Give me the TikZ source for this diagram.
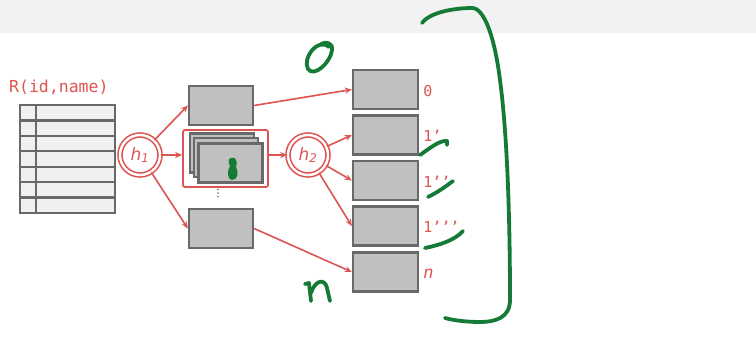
\documentclass[tikz,border=0pt]{standalone}
\usepackage{fontspec}
\setmonofont{DejaVu Sans Mono}
\setsansfont{DejaVu Sans}
\usetikzlibrary{positioning,arrows,arrows.meta,calc}
\definecolor{hred}{RGB}{222,84,80}
\definecolor{hgrey}{RGB}{192,192,192}
\definecolor{hedge}{RGB}{105,105,105}
\definecolor{pen}{RGB}{22,122,55}

\begin{document}
\begin{tikzpicture}[x=1pt,y=-1pt,
  bucket/.style={draw=hedge,fill=hgrey,line width=2.3pt,minimum width=64pt,minimum height=39pt,inner sep=0pt},
  hashfn/.style={circle,draw=hred,double=white,double distance=2.4pt,line width=1.6pt,minimum size=40pt,inner sep=0pt,text=hred,font=\sffamily\itshape\fontsize{17}{17}\selectfont},
  link/.style={-{Stealth[length=7pt,width=6pt]},hred,line width=1.6pt},
  lbl/.style={anchor=west,text=hred,inner sep=1pt,font=\ttfamily\fontsize{15}{15}\selectfont},
  ink/.style={pen,line width=3.8pt,line cap=round,line join=round}]
\useasboundingbox (0,0) rectangle (756,357);
\fill[white] (0,0) rectangle (756,357);
\fill[black!5] (0,0) rectangle (756,33);

% relation R
\node[lbl] (title) at (8,87) {\fontsize{16.5}{16.5}\selectfont R(id,name)};
\draw[hedge,line width=2.3pt,fill=black!6] (20,105) rectangle (115,213);
\foreach \r in {1,...,6}
  \draw[hedge,line width=2.3pt] (20,{105+\r*15.43}) -- (115,{105+\r*15.43});
\draw[hedge,line width=2.3pt] (36,105) -- (36,213);

% hash functions
\node[hashfn] (h1) at (140,155) {h\textsubscript{1}};
\node[hashfn] (h2) at (308,155) {h\textsubscript{2}};

% first pass buckets
\node[bucket] (top) at (221,105.5) {};
\node[draw=hred,line width=1.8pt,rounded corners=2pt,minimum width=85pt,minimum height=57pt] (grp) at (225.5,158.5) {};
\node[bucket] (s1) at (222,153) {};
\node[bucket] (s2) at (226,157.5) {};
\node[bucket] (s3) at (230.5,163) {};
\foreach \d in {0,1,2}
  \fill[hedge] (218,{189.5+\d*3.5}) circle (0.8);
\node[bucket] (bot) at (221,228.5) {};

% second pass buckets
\node[bucket,minimum width=65pt] (b0) at (385.5,89.5) {};
\node[bucket,minimum width=65pt] (b1) at (385.5,135) {};
\node[bucket,minimum width=65pt] (b2) at (385.5,180.5) {};
\node[bucket,minimum width=65pt] (b3) at (385.5,226) {};
\node[bucket,minimum width=65pt] (bn) at (385.5,272) {};
\node[lbl] (l0) at ($(b0.east)+(3,2)$) {0};
\node[lbl] (l1) at ($(b1.east)+(3,1)$) {1’};
\node[lbl] (l2) at ($(b2.east)+(3,1)$) {1’’};
\node[lbl] (l3) at ($(b3.east)+(3,1)$) {1’’’};
\node[lbl,font=\ttfamily\fontsize{17}{17}\selectfont] (ln) at ($(bn.east)+(3,2)$) {\textit{n}};

% arrows
\draw[link] (h1) -- (top.west);
\draw[link] (h1) -- (h1 -| grp.west);
\draw[link] (h1) -- (bot.west);
\draw[link] (top.east) -- (b0.west);
\draw[link] (grp.east |- h2) -- (h2);
\draw[link] (h2) -- (b1.west);
\draw[link] (h2) -- (b2.west);
\draw[link] (h2) -- (b3.west);
\draw[link] (bot.east) -- (bn.west);

% pen marks
\fill[pen] (231,158) .. controls (236,156) and (238,162) .. (236,167)
  .. controls (239,172) and (238,180) .. (232,180)
  .. controls (227,180) and (227,170) .. (230,166)
  .. controls (228,162) and (228,159) .. (231,158) -- cycle;
\draw[ink] (329,47) .. controls (318,37) and (302,58) .. (308,69)
  .. controls (314,78) and (331,62) .. (332,50)
  .. controls (333,43) and (326,41) .. (321,44);
\draw[ink] (305,284) -- (309,283) -- (311,301);
\draw[ink] (311,293) .. controls (315,280) and (325,278) .. (327,288) -- (330,301);
\draw[ink] (422,23) .. controls (430,12) and (455,8) .. (472,8)
  .. controls (485,8) and (495,40) .. (500,80)
  .. controls (508,140) and (510,230) .. (510,300)
  .. controls (510,318) and (495,322) .. (480,322)
  .. controls (465,322) and (452,320) .. (445,318);
\draw[ink] (420,155) .. controls (430,148) and (440,140) .. (447,141) -- (447,145);
\draw[ink] (428,197) .. controls (438,192) and (445,187) .. (453,181);
\draw[ink] (425,248) .. controls (440,245) and (455,240) .. (463,231);
\end{tikzpicture}
\end{document}
